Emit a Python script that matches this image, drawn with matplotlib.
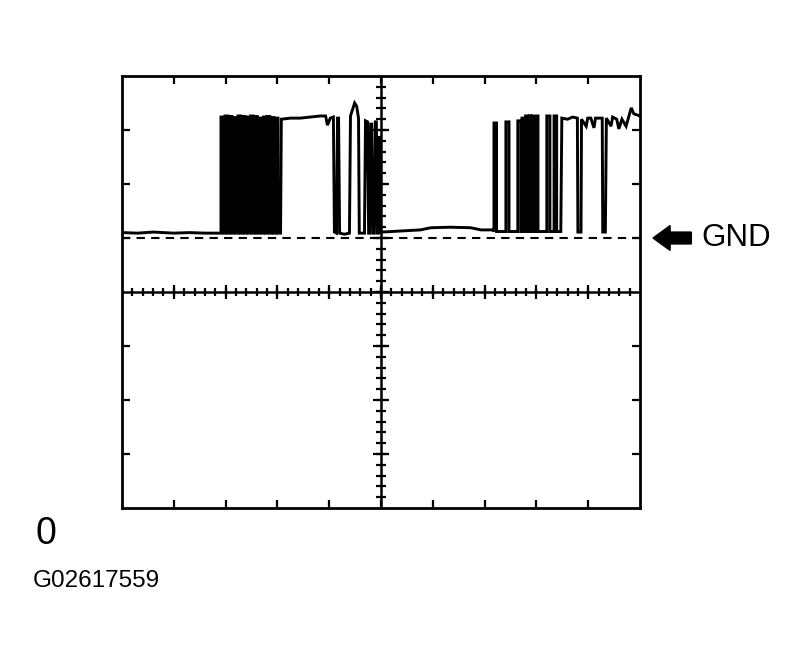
import numpy as np
import matplotlib
matplotlib.use("Agg")
import matplotlib.pyplot as plt
from matplotlib.patches import FancyArrow

plt.rcParams['font.family'] = ['Liberation Sans', 'DejaVu Sans']

# scope screen: 10 x 8 divisions, centre at (5, 0)
# trace values (time in div, voltage in div)
gnd_level = 1.0

base_t = [0.0, 0.3, 0.6, 1.0, 1.3, 1.6, 1.89]
base_v = [1.10, 1.09, 1.11, 1.09, 1.10, 1.09, 1.09]

burst1_rise = [1.91, 1.99, 2.07, 2.15, 2.24, 2.32, 2.40, 2.48, 2.56, 2.65, 2.73, 2.80, 2.88, 2.96]
burst1_fall = [1.96, 2.04, 2.12, 2.20, 2.29, 2.37, 2.45, 2.53, 2.61, 2.70, 2.78, 2.85, 2.93, 3.01]
burst1_top = [3.24, 3.26, 3.25, 3.23, 3.26, 3.25, 3.24, 3.26, 3.25, 3.22, 3.24, 3.25, 3.23, 3.22]
burst1_low = 1.09

mid_t = [3.06, 3.075, 3.25, 3.44, 3.64, 3.83, 3.93, 3.965, 4.02, 4.08,
         4.10, 4.14, 4.16, 4.18, 4.20, 4.29, 4.39, 4.41, 4.49, 4.53,
         4.565, 4.58, 4.68, 4.70, 4.74, 4.76, 4.78, 4.80, 4.82, 4.84,
         4.87, 4.89, 4.91, 4.93, 4.95, 4.97, 4.99, 5.01, 5.38, 5.76,
         5.96, 6.34, 6.73, 6.93, 7.16]
mid_v = [1.09, 3.20, 3.22, 3.22, 3.24, 3.26, 3.26, 3.09, 3.22, 3.24,
         1.11, 1.09, 3.22, 3.22, 1.09, 1.07, 1.09, 3.26, 3.50, 3.44,
         3.22, 1.09, 1.09, 3.17, 3.15, 1.09, 1.09, 3.11, 3.11, 1.09,
         1.09, 3.15, 3.15, 1.09, 1.09, 2.89, 1.11, 1.11, 1.13, 1.15,
         1.19, 1.20, 1.19, 1.15, 1.15]

burst2_rise = [7.18, 7.41, 7.64, 7.72, 7.79, 7.86, 7.91, 7.96, 8.00, 8.20, 8.34]
burst2_fall = [7.23, 7.47, 7.70, 7.75, 7.83, 7.89, 7.94, 7.98, 8.03, 8.26, 8.39]
burst2_top = [3.13, 3.15, 3.17, 3.22, 3.26, 3.26, 3.26, 3.24, 3.26, 3.26, 3.26]
burst2_low = 1.12

tail_t = [8.47, 8.49, 8.60, 8.70, 8.79, 8.80, 8.86, 8.87, 8.96, 8.99,
          9.05, 9.11, 9.14, 9.27, 9.28, 9.33, 9.35, 9.44, 9.47, 9.55,
          9.59, 9.65, 9.73, 9.78, 9.83, 9.88, 10.0]
tail_v = [1.12, 3.22, 3.20, 3.24, 3.22, 1.11, 1.11, 3.20, 3.07, 3.22,
          3.22, 3.04, 3.22, 3.22, 1.11, 1.11, 3.22, 3.07, 3.24, 3.20,
          3.02, 3.20, 3.07, 3.24, 3.41, 3.30, 3.26]


def pulses(rise, fall, top, low):
    t, v = [], []
    for r, f, h in zip(rise, fall, top):
        t += [r, r, f, f]
        v += [low, h, h, low]
    return t, v


b1_t, b1_v = pulses(burst1_rise, burst1_fall, burst1_top, burst1_low)
b2_t, b2_v = pulses(burst2_rise, burst2_fall, burst2_top, burst2_low)
trace_t = base_t + b1_t + mid_t + b2_t + tail_t
trace_v = base_v + b1_v + mid_v + b2_v + tail_v

fig = plt.figure(figsize=(8.05, 6.65), dpi=100)
ax = fig.add_axes([0.1516, 0.2361, 0.6435, 0.6496])
ax.set_xlim(0, 10)
ax.set_ylim(-4, 4)

for s in ax.spines.values():
    s.set_linewidth(2.0)

# inward frame ticks at the major divisions
ax.set_xticks(range(1, 10))
ax.set_yticks([-3, -2, -1, 1, 2, 3])
ax.tick_params(direction='in', length=6, width=1.6, top=True, right=True,
               labelbottom=False, labelleft=False)

# centre graticule lines with their small ticks
ax.axhline(0, color='k', lw=1.8)
ax.axvline(5, color='k', lw=1.8)
minor_x = np.arange(0.2, 10, 0.2)
minor_y = np.arange(-3.8, 4, 0.2)
ax.plot(minor_x, np.zeros_like(minor_x), ls='none', marker='|', ms=6, mew=1.6, color='k')
ax.plot(range(1, 10), np.zeros(9), ls='none', marker='|', ms=10, mew=1.6, color='k')
ax.plot(np.full_like(minor_y, 5), minor_y, ls='none', marker='_', ms=7, mew=1.6, color='k')
ax.plot(np.full(7, 5), [-3, -2, -1, 0, 1, 2, 3], ls='none', marker='_', ms=11, mew=1.6, color='k')

# ground reference
ax.axhline(gnd_level, color='k', lw=1.5, ls=(0, (4, 3)))

# signal trace
ax.plot(trace_t, trace_v, color='k', lw=2.1, solid_joinstyle='miter')

# GND marker
ax.add_patch(FancyArrow(10.99, gnd_level, -0.74, 0, width=0.22, head_width=0.46,
                        head_length=0.33, length_includes_head=True,
                        color='k', clip_on=False))
ax.text(11.18, gnd_level, 'GND', fontsize=22.5, va='center', ha='left', clip_on=False)

fig.text(0.044, 0.197, '0', fontsize=27, va='center', ha='left')
fig.text(0.041, 0.126, 'G02617559', fontsize=17.5, va='center', ha='left')

fig.savefig('out.png', dpi=100)
